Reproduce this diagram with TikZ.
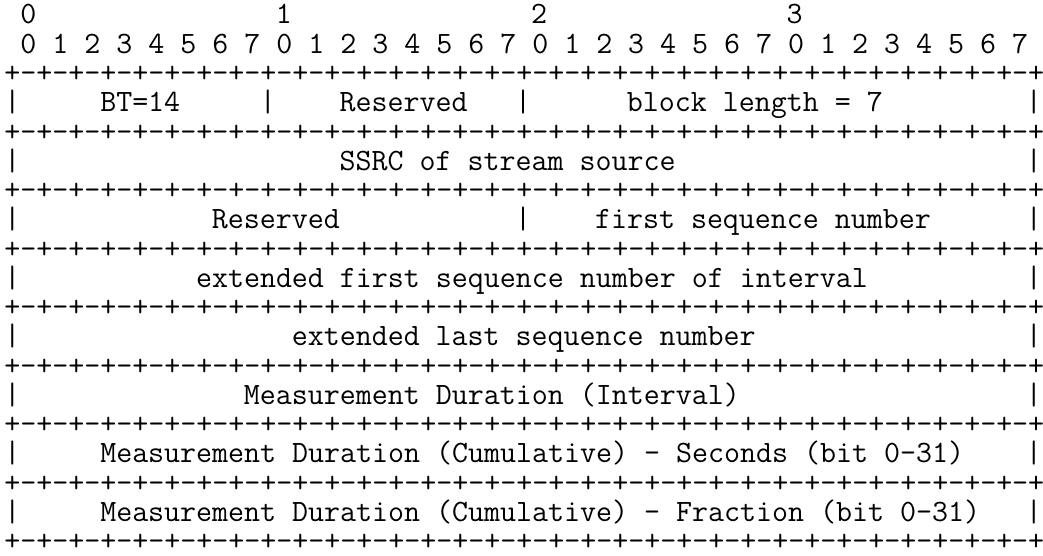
\documentclass[tikz,border=0pt]{standalone}
\usepackage{fontspec}
\newcommand\monotext{\fontsize{31.06}{30}\selectfont\ttfamily\frenchspacing}
\tikzset{
  txt/.style={anchor=base west, inner sep=0pt, outer sep=0pt, font=\monotext, text=black},
}
\begin{document}
\begin{tikzpicture}[x=15.96pt,y=-29.26pt]
\fill[white] (0pt,0pt) rectangle (1043pt,-556pt);
\useasboundingbox (0pt,0pt) rectangle (1043pt,-556pt);
\begin{scope}[shift={(4.5pt,-24pt)}]
% byte header
\node[txt] (h0) at (1,0) {0};
\node[txt] (h1) at (17,0) {1};
\node[txt] (h2) at (33,0) {2};
\node[txt] (h3) at (49,0) {3};
% bit numbers
\node[txt] (bits) at (1,1) {0 1 2 3 4 5 6 7 0 1 2 3 4 5 6 7 0 1 2 3 4 5 6 7 0 1 2 3 4 5 6 7};
% borders
\foreach \r in {2,4,...,18}
  \node[txt] (border\r) at (0,\r) {+-+-+-+-+-+-+-+-+-+-+-+-+-+-+-+-+-+-+-+-+-+-+-+-+-+-+-+-+-+-+-+-+};
% outer bars
\foreach \r in {3,5,...,17} {
  \node[txt] (barL\r) at (0,\r) {|};
  \node[txt] (barR\r) at (64,\r) {|};
}
% inner bars
\node[txt] (bar3a) at (16,3) {|};
\node[txt] (bar3b) at (32,3) {|};
\node[txt] (bar7a) at (32,7) {|};
% fields
\node[txt] (bt) at (6,3) {BT=14};
\node[txt] (res1) at (21,3) {Reserved};
\node[txt] (blen) at (39,3) {block length = 7};
\node[txt] (ssrc) at (21,5) {SSRC of stream source};
\node[txt] (res2) at (13,7) {Reserved};
\node[txt] (fsn) at (37,7) {first sequence number};
\node[txt] (efsn) at (12,9) {extended first sequence number of interval};
\node[txt] (elsn) at (18,11) {extended last sequence number};
\node[txt] (mdi) at (15,13) {Measurement Duration (Interval)};
\node[txt] (mdcs) at (6,15) {Measurement Duration (Cumulative) - Seconds (bit 0-31)};
\node[txt] (mdcf) at (6,17) {Measurement Duration (Cumulative) - Fraction (bit 0-31)};
\end{scope}
\end{tikzpicture}
\end{document}
